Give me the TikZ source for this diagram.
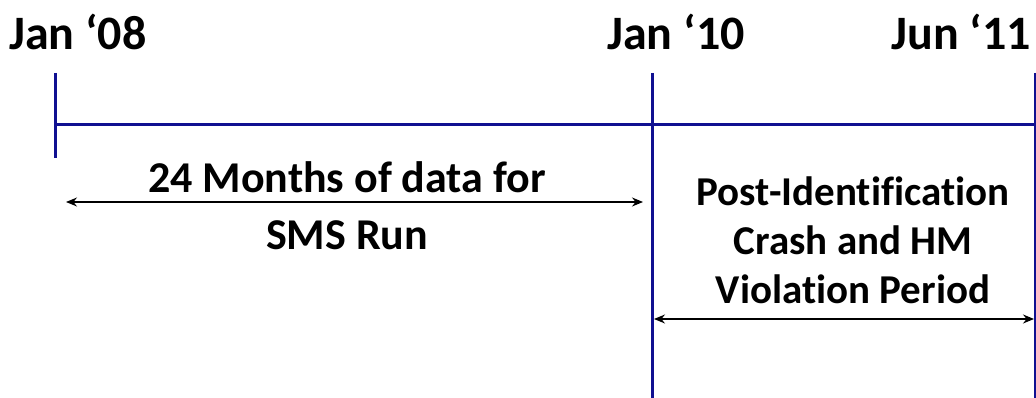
\documentclass[tikz,border=0pt]{standalone}
\usepackage{fontspec}
\setmainfont{Carlito}[Ligatures={TeX,NoCommon}]
\usetikzlibrary{arrows.meta}
\definecolor{navy}{RGB}{16,16,145}

\begin{document}
\begin{tikzpicture}[x=1pt,y=-1pt,
    axis/.style={navy,line width=3pt},
    span/.style={{Stealth[length=11pt,width=9pt]}-{Stealth[length=11pt,width=9pt]},line width=1.3pt},
    datelbl/.style={anchor=base,inner sep=0pt,font=\fontsize{48}{56}\selectfont\bfseries},
    note/.style={anchor=base,align=center,inner sep=0pt}]
    \useasboundingbox (0,0) rectangle (1036,398);
    % time line
    \coordinate (t08) at (55,125);
    \coordinate (t10) at (652,125);
    \coordinate (t11) at (1035,125);
    \draw[axis] (t08) -- (1036,125);
    \draw[axis] (55,73) -- (55,158);
    \draw[axis] (652,73) -- (652,398);
    \draw[navy,line width=1.5pt] (1035,73) -- (1035,398);
    \node[datelbl] (l08) at (78,50) {Jan ‘08};
    \node[datelbl] (l10) at (676,50) {Jan ‘10};
    \node[datelbl] (l11) at (961,50) {Jun ‘11};
    % periods
    \coordinate (a1) at (66,202);
    \coordinate (b1) at (643,202);
    \coordinate (a2) at (654,319);
    \coordinate (b2) at (1034,319);
    \draw[span] (a1) -- (b1);
    \draw[span] (a2) -- (b2);
    \node[note,font=\fontsize{44}{57}\selectfont\bfseries] (sms) at (347,250) {24 Months of data for\\SMS Run};
    \node[note,font=\fontsize{41}{49}\selectfont\bfseries] (post) at (853,303) {Post-Identification\\Crash and HM\\Violation Period};
\end{tikzpicture}
\end{document}
